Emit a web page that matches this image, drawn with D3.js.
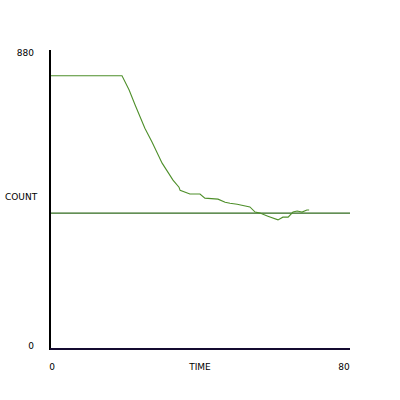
<!DOCTYPE html>
<html>
<head>
<meta charset="utf-8">
<script src="https://cdn.jsdelivr.net/npm/d3@7"></script>
<style>
  body { margin: 0; background: #fff; }
  text { font-family: "DejaVu Sans", sans-serif; font-size: 9px; fill: #000; }
</style>
</head>
<body>
<div id="chart"></div>
<script>
// data
const times = [0, 19.2, 21.1, 22.7, 25.3, 27.2, 29.9, 32.8, 34.4, 34.7, 37.3, 40, 41.3, 44.8, 46.7, 48, 49.9, 53.3, 54.7, 56, 58.1, 60.8, 62.1, 63.5, 64.8, 65.9, 67.2, 68.5, 69.1];
const counts = [804, 804, 762, 718, 650, 609, 547, 497, 476, 467, 456, 456, 444, 441, 432, 429, 426, 418, 403, 400, 391, 380, 388, 388, 403, 406, 403, 409, 409];
const refLevel = 400;
const xDomain = [0, 80];
const yDomain = [0, 880];
const xLabel = "TIME";
const yLabel = "COUNT";

const width = 400, height = 400;
const margin = { top: 50, right: 50, bottom: 51, left: 50 };

const svg = d3.select("#chart").append("svg")
    .attr("width", width)
    .attr("height", height);

const x = d3.scaleLinear().domain(xDomain).range([margin.left, width - margin.right]);
const y = d3.scaleLinear().domain(yDomain).range([height - margin.bottom, margin.top]);

// reference line
svg.append("line")
    .attr("x1", x(xDomain[0])).attr("x2", x(xDomain[1]))
    .attr("y1", y(refLevel)).attr("y2", y(refLevel))
    .attr("stroke", "#2f6a1c")
    .attr("stroke-width", 1.2);

// series
const data = times.map((t, i) => ({ t: t, c: counts[i] }));
const line = d3.line().x(d => x(d.t)).y(d => y(d.c));
svg.append("path")
    .datum(data)
    .attr("fill", "none")
    .attr("stroke", "#4e8f2a")
    .attr("stroke-width", 1.1)
    .attr("d", line);

// axes
svg.append("line")
    .attr("x1", x(0)).attr("x2", x(0))
    .attr("y1", y(yDomain[1])).attr("y2", y(0) + 1)
    .attr("stroke", "#000").attr("stroke-width", 2);
svg.append("line")
    .attr("x1", x(0)).attr("x2", x(xDomain[1]))
    .attr("y1", y(0)).attr("y2", y(0))
    .attr("stroke", "#140a30").attr("stroke-width", 2);

// labels
svg.append("text").attr("x", 34).attr("y", y(yDomain[1]) + 6)
    .attr("text-anchor", "end").text(yDomain[1]);
svg.append("text").attr("x", 34).attr("y", y(0))
    .attr("text-anchor", "end").text(yDomain[0]);
svg.append("text").attr("x", 5).attr("y", 200).text(yLabel);
svg.append("text").attr("x", x(0) + 2).attr("y", 370)
    .attr("text-anchor", "middle").text(xDomain[0]);
svg.append("text").attr("x", (x(0) + x(xDomain[1])) / 2).attr("y", 370)
    .attr("text-anchor", "middle").text(xLabel);
svg.append("text").attr("x", x(xDomain[1]) - 6).attr("y", 370)
    .attr("text-anchor", "middle").text(xDomain[1]);
</script>
</body>
</html>
